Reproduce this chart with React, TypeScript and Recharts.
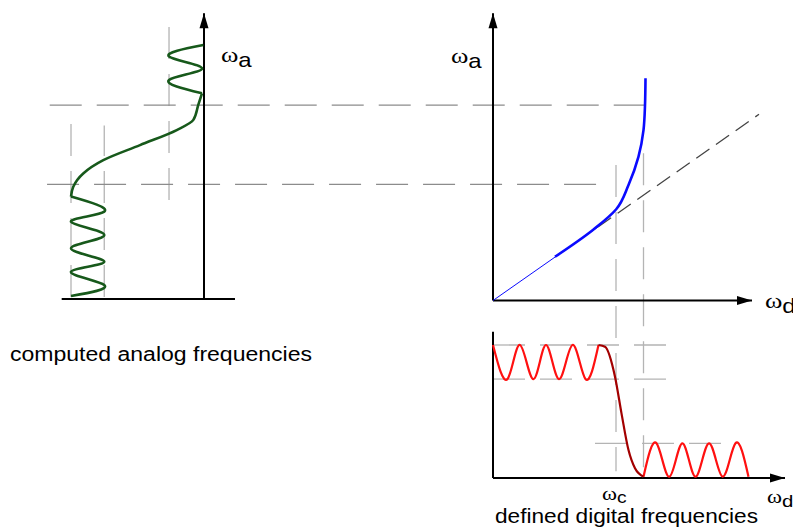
import React from 'react';
import { ComposedChart, Line, XAxis, YAxis } from 'recharts';

const W = 793;
const H = 530;

// panel layout in pixels
const WD_ORIGIN = 493; // x of ωd = 0
const WD_PX = 50; // px per ωd unit
const WA_ORIGIN = 300.5; // y of ωa = 0
const WA_PX = 35; // px per ωa unit
const MAGX_ORIGIN = 204; // x of |H| = 0, left panel (|H| grows leftwards)
const MAGY_ORIGIN = 478; // y of |H| = 0, lower panel
const MAG_PX = 133; // px per |H| unit in both panels

// digital filter response (lower right)
const passWd = [0, 0.29, 0.54, 0.81, 1.06, 1.32, 1.59, 1.85, 2.11];
const passMag = [1, 0.744, 1, 0.744, 1, 0.744, 1, 0.744, 1];
const edgeWd = [2.11, 2.24, 2.44, 2.57, 2.71, 2.84, 3.01];
const edgeMag = [1, 0.987, 0.762, 0.486, 0.21, 0.073, 0.01];
const stopWd = [3.01, 3.27, 3.53, 3.79, 4.05, 4.32, 4.59, 4.85, 5.11];
const stopMag = [0.01, 0.261, 0.01, 0.261, 0.01, 0.261, 0.01, 0.261, 0.01];

// analog filter response (left), drawn along ωa
const aPassWa = [0.13, 0.44, 0.82, 1.11, 1.49, 1.87, 2.25, 2.54, 2.97];
const aPassMag = [1, 0.75, 1, 0.75, 1, 0.75, 1, 0.75, 1];
const aEdgeWa = [2.97, 3.25, 3.63, 4.01, 4.44, 4.87, 5.16, 5.59, 5.92];
const aEdgeMag = [1, 0.983, 0.908, 0.757, 0.481, 0.205, 0.08, 0.043, 0.015];
const aStopWa = [5.92, 6.3, 6.63, 6.97, 7.3];
const aStopMag = [0.015, 0.263, 0.015, 0.263, 0.005];

// frequency warping ωa(ωd)
const linearWd = [0, 2.1];
const linearWa = [0, 2.1];
const warpWd = [1.24, 2.01, 2.46, 2.71, 2.91, 3.01, 3.04, 3.05];
const warpWa = [1.25, 2.03, 2.6, 3.3, 4.11, 4.87, 5.58, 6.35];
const asymWd = [2.1, 5.32];
const asymWa = [2.1, 5.32];

// band edges carried across the panels
const edgeWaLevels = [3.32, 5.58];
const edgeWaLeftMag = [1.18, 1.16];
const edgeWaRightWd = [2.34, 3.2];
const edgeWdLevels = [2.46, 3.01];
const edgeWdTopWa = [3.87, 4.21];
const edgeWdBottomMag = 0.05;

// tolerance grid
const leftGridMag = [1, 0.75, 0.263];
const leftGridWa = [[0.1, 5.06], [0.1, 5.0], [2.87, 7.87]];
const lowGridMag = [1, 0.744, 0.261];
const lowGridWd = [[0, 3.64], [0, 3.64], [2.04, 4.88]];

// axis extents
const waTop = 8.21;
const wdTip = 5.18;
const lowWdTip = 5.84;
const lowMagTop = 1.1;
const leftBaseWa = 0.04;
const leftBaseMag = [1.07, -0.233];

const magToWd = (m: number) => (MAGX_ORIGIN - m * MAG_PX - WD_ORIGIN) / WD_PX;
const magToWa = (m: number) => (WA_ORIGIN - (MAGY_ORIGIN - m * MAG_PX)) / WA_PX;

const pairs = (xs: number[], ys: number[], kx: string, ky: string) =>
  xs.map((v, i) => ({ [kx]: v, [ky]: ys[i] }));

const GREEN = '#17591b';
const BLUE = '#0a0aff';
const RED = '#ff1010';
const DARK_RED = '#a30000';
const GRID = '#b4b4b4';
const GUIDE = '#8c8c8c';

const arrowDot = (dir: 'up' | 'right') => (props: any) => {
  const { cx, cy, index } = props;
  if (index !== 1) return <g key={`n${index}`} />;
  const pts =
    dir === 'up'
      ? `${cx},${cy} ${cx - 4.5},${cy + 15} ${cx + 4.5},${cy + 15}`
      : `${cx},${cy} ${cx - 15},${cy - 4.5} ${cx - 15},${cy + 4.5}`;
  return <polygon key={`a${index}`} points={pts} fill="#000" />;
};

const SERIF = "'Liberation Serif', 'Times New Roman', serif";
const SANS = "'Liberation Sans', Arial, sans-serif";

const Sym = ({ x, y, sub, size = 22, subSize = 20, subDy = 5 }: any) => (
  <text transform={`translate(${x},${y}) scale(1.2,1)`} fill="#000">
    <tspan fontFamily={SERIF} fontSize={size}>ω</tspan>
    <tspan fontFamily={SANS} fontSize={subSize} dy={subDy}>{sub}</tspan>
  </text>
);

export default function App() {
  const aPass = pairs(aPassMag, aPassWa, 'm', 'wa');
  const aEdge = pairs(aEdgeMag, aEdgeWa, 'm', 'wa');
  const aStop = pairs(aStopMag, aStopWa, 'm', 'wa');
  const pass = pairs(passWd, passMag, 'wd', 'm');
  const edge = pairs(edgeWd, edgeMag, 'wd', 'm');
  const stop = pairs(stopWd, stopMag, 'wd', 'm');
  const linear = pairs(linearWd, linearWa, 'wd', 'wa');
  const warp = pairs(warpWd, warpWa, 'wd', 'wa');
  const asym = pairs(asymWd, asymWa, 'wd', 'wa');

  return (
    <div style={{ position: 'absolute', left: 0, top: 0, width: W, height: H, background: '#fff' }}>
      <ComposedChart width={W} height={H} margin={{ top: 0, right: 0, bottom: 0, left: 0 }}>
        <XAxis xAxisId="wd" dataKey="wd" type="number" hide allowDataOverflow
          domain={[-WD_ORIGIN / WD_PX, (W - WD_ORIGIN) / WD_PX]} />
        <XAxis xAxisId="mx" dataKey="m" type="number" hide allowDataOverflow reversed
          domain={[(MAGX_ORIGIN - W) / MAG_PX, MAGX_ORIGIN / MAG_PX]} />
        <YAxis yAxisId="wa" dataKey="wa" type="number" hide allowDataOverflow
          domain={[(WA_ORIGIN - H) / WA_PX, WA_ORIGIN / WA_PX]} />
        <YAxis yAxisId="my" dataKey="m" type="number" hide allowDataOverflow
          domain={[(MAGY_ORIGIN - H) / MAG_PX, MAGY_ORIGIN / MAG_PX]} />

        {/* tolerance grid, left panel */}
        {leftGridMag.map((m, i) => (
          <Line key={`lg${i}`} xAxisId="mx" yAxisId="wa" dataKey="wa" isAnimationActive={false}
            data={[{ m, wa: leftGridWa[i][0] }, { m, wa: leftGridWa[i][1] }]}
            stroke={GRID} strokeWidth={1.3} strokeDasharray="32 15" dot={false} activeDot={false} />
        ))}
        {/* tolerance grid, lower panel */}
        {lowGridMag.map((m, i) => (
          <Line key={`dg${i}`} xAxisId="wd" yAxisId="my" dataKey="m" isAnimationActive={false}
            data={[{ wd: lowGridWd[i][0], m }, { wd: lowGridWd[i][1], m }]}
            stroke={GRID} strokeWidth={1.3} strokeDasharray="32 15" dot={false} activeDot={false} />
        ))}
        {/* ωa band edges */}
        {edgeWaLevels.map((wa, i) => (
          <Line key={`ea${i}`} xAxisId="wd" yAxisId="wa" dataKey="wa" isAnimationActive={false}
            data={[{ wd: magToWd(edgeWaLeftMag[i]), wa }, { wd: edgeWaRightWd[i], wa }]}
            stroke={GUIDE} strokeWidth={1.3} strokeDasharray="32 15" dot={false} activeDot={false} />
        ))}
        {/* ωd band edges */}
        {edgeWdLevels.map((wd, i) => (
          <Line key={`ed${i}`} xAxisId="wd" yAxisId="wa" dataKey="wa" isAnimationActive={false}
            data={[{ wd, wa: edgeWdTopWa[i] }, { wd, wa: magToWa(edgeWdBottomMag) }]}
            stroke={GRID} strokeWidth={1.3} strokeDasharray="32 15" dot={false} activeDot={false} />
        ))}

        {/* axes */}
        <Line xAxisId="mx" yAxisId="wa" dataKey="wa" isAnimationActive={false}
          data={[{ m: 0, wa: leftBaseWa }, { m: 0, wa: waTop }]}
          stroke="#000" strokeWidth={2} dot={arrowDot('up')} activeDot={false} />
        <Line xAxisId="mx" yAxisId="wa" dataKey="wa" isAnimationActive={false}
          data={[{ m: leftBaseMag[0], wa: leftBaseWa }, { m: leftBaseMag[1], wa: leftBaseWa }]}
          stroke="#000" strokeWidth={2} dot={false} activeDot={false} />
        <Line xAxisId="wd" yAxisId="wa" dataKey="wa" isAnimationActive={false}
          data={[{ wd: 0, wa: 0 }, { wd: 0, wa: waTop }]}
          stroke="#000" strokeWidth={2} dot={arrowDot('up')} activeDot={false} />
        <Line xAxisId="wd" yAxisId="wa" dataKey="wa" isAnimationActive={false}
          data={[{ wd: 0, wa: 0 }, { wd: wdTip, wa: 0 }]}
          stroke="#000" strokeWidth={2} dot={arrowDot('right')} activeDot={false} />
        <Line xAxisId="wd" yAxisId="my" dataKey="m" isAnimationActive={false}
          data={[{ wd: 0, m: 0 }, { wd: 0, m: lowMagTop }]}
          stroke="#000" strokeWidth={2} dot={false} activeDot={false} />
        <Line xAxisId="wd" yAxisId="my" dataKey="m" isAnimationActive={false}
          data={[{ wd: 0, m: 0 }, { wd: lowWdTip, m: 0 }]}
          stroke="#000" strokeWidth={2} dot={arrowDot('right')} activeDot={false} />

        {/* warping */}
        <Line xAxisId="wd" yAxisId="wa" dataKey="wa" data={asym} isAnimationActive={false}
          stroke="#444" strokeWidth={1.3} strokeDasharray="16 8" dot={false} activeDot={false} />
        <Line xAxisId="wd" yAxisId="wa" dataKey="wa" data={linear} isAnimationActive={false}
          stroke={BLUE} strokeWidth={1} dot={false} activeDot={false} />
        <Line xAxisId="wd" yAxisId="wa" dataKey="wa" data={warp} type="monotoneY" isAnimationActive={false}
          stroke={BLUE} strokeWidth={2.6} dot={false} activeDot={false} />

        {/* analog response */}
        <Line xAxisId="mx" yAxisId="wa" dataKey="wa" data={aPass} type="natural" isAnimationActive={false}
          stroke={GREEN} strokeWidth={2.6} dot={false} activeDot={false} />
        <Line xAxisId="mx" yAxisId="wa" dataKey="wa" data={aEdge} type="monotoneY" isAnimationActive={false}
          stroke={GREEN} strokeWidth={2.6} dot={false} activeDot={false} />
        <Line xAxisId="mx" yAxisId="wa" dataKey="wa" data={aStop} type="natural" isAnimationActive={false}
          stroke={GREEN} strokeWidth={2.6} dot={false} activeDot={false} />

        {/* digital response */}
        <Line xAxisId="wd" yAxisId="my" dataKey="m" data={pass} type="natural" isAnimationActive={false}
          stroke={RED} strokeWidth={2.2} dot={false} activeDot={false} />
        <Line xAxisId="wd" yAxisId="my" dataKey="m" data={stop} type="natural" isAnimationActive={false}
          stroke={RED} strokeWidth={2.2} dot={false} activeDot={false} />
        <Line xAxisId="wd" yAxisId="my" dataKey="m" data={edge} type="monotone" isAnimationActive={false}
          stroke={DARK_RED} strokeWidth={2.2} dot={false} activeDot={false} />
      </ComposedChart>

      <svg width={W} height={H} style={{ position: 'absolute', left: 0, top: 0, pointerEvents: 'none' }}>
        <Sym x={221} y={62} sub="a" />
        <Sym x={451} y={63} sub="a" />
        <Sym x={765} y={308} sub="d" />
        <Sym x={602} y={500} sub="c" size={19} subSize={16} subDy={3} />
        <Sym x={767} y={503} sub="d" size={19} subSize={17} subDy={4} />
        <text x={10} y={361} fontFamily={SANS} fontSize={19.5} textLength={302} lengthAdjust="spacingAndGlyphs" fill="#000">
          computed analog frequencies
        </text>
        <text x={495} y={523} fontFamily={SANS} fontSize={20} textLength={263} lengthAdjust="spacingAndGlyphs" fill="#000">
          defined digital frequencies
        </text>
      </svg>
    </div>
  );
}
